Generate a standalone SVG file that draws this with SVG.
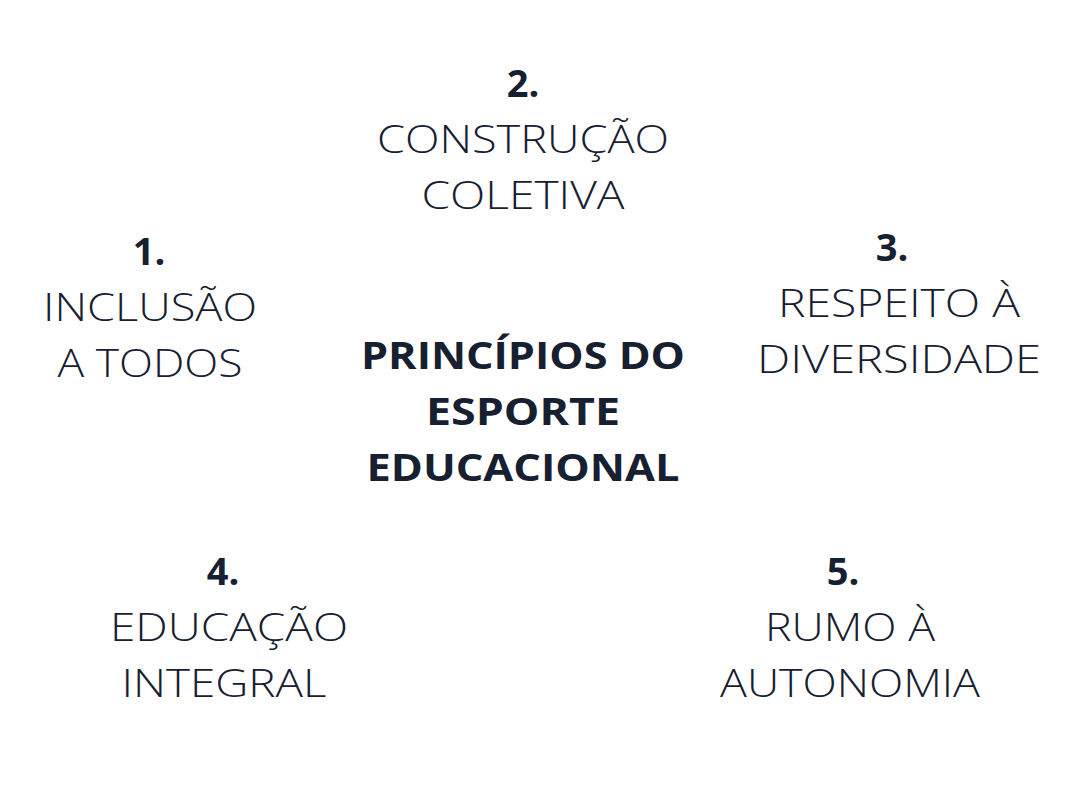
<svg xmlns="http://www.w3.org/2000/svg" width="1079" height="803" viewBox="0 0 1079 803">
<style>
text{font-family:"Open Sans","Liberation Sans",sans-serif;fill:#172031;text-anchor:middle;}
.n{font-size:38px;font-weight:700;}
.l{font-size:39px;font-weight:300;}
.c{font-size:38px;font-weight:700;}
</style>
<rect width="1079" height="803" fill="#ffffff"/>
<g id="node2">
<text class="n" x="523" y="97">2.</text>
<text class="l" x="523" y="153" textLength="292" lengthAdjust="spacingAndGlyphs">CONSTRUÇÃO</text>
<text class="l" x="523" y="209" textLength="203" lengthAdjust="spacingAndGlyphs">COLETIVA</text>
</g>
<g id="node1">
<text class="n" x="149" y="265">1.</text>
<text class="l" x="150" y="321" textLength="214" lengthAdjust="spacingAndGlyphs">INCLUSÃO</text>
<text class="l" x="150" y="377" textLength="185" lengthAdjust="spacingAndGlyphs">A TODOS</text>
</g>
<g id="node3">
<text class="n" x="892" y="261">3.</text>
<text class="l" x="899" y="317" textLength="242" lengthAdjust="spacingAndGlyphs">RESPEITO À</text>
<text class="l" x="899" y="373" textLength="284" lengthAdjust="spacingAndGlyphs">DIVERSIDADE</text>
</g>
<g id="center">
<text class="c" x="523" y="369" textLength="324" lengthAdjust="spacingAndGlyphs">PRINCÍPIOS DO</text>
<text class="c" x="523" y="425" textLength="194" lengthAdjust="spacingAndGlyphs">ESPORTE</text>
<text class="c" x="523" y="481" textLength="313" lengthAdjust="spacingAndGlyphs">EDUCACIONAL</text>
</g>
<g id="node4">
<text class="n" x="223" y="585">4.</text>
<text class="l" x="229" y="641" textLength="238" lengthAdjust="spacingAndGlyphs">EDUCAÇÃO</text>
<text class="l" x="224" y="697" textLength="205" lengthAdjust="spacingAndGlyphs">INTEGRAL</text>
</g>
<g id="node5">
<text class="n" x="843" y="585">5.</text>
<text class="l" x="850" y="641" textLength="170" lengthAdjust="spacingAndGlyphs">RUMO À</text>
<text class="l" x="850" y="697" textLength="260" lengthAdjust="spacingAndGlyphs">AUTONOMIA</text>
</g>
<g id="connectors"></g>
</svg>
